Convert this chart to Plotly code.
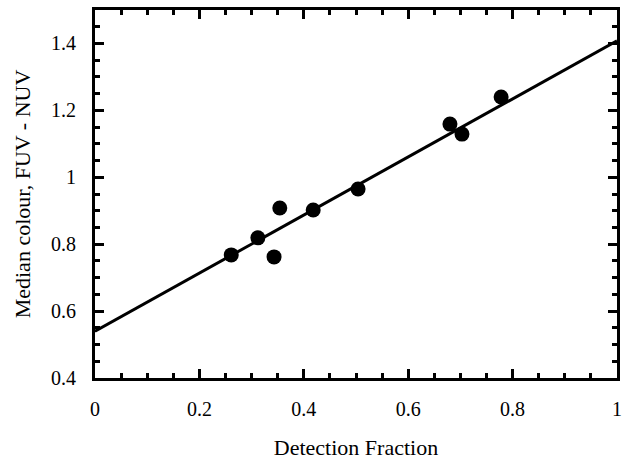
import plotly.graph_objects as go

det_frac = [0.261, 0.312, 0.343, 0.354, 0.418, 0.504, 0.680, 0.703, 0.778]
med_colour = [0.768, 0.819, 0.762, 0.908, 0.902, 0.965, 1.159, 1.129, 1.240]
fit_x = [0.0, 1.0]
fit_y = [0.540, 1.408]

fam = "Liberation Serif, Times New Roman, serif"
tick_font = dict(family=fam, size=20, color="black")
title_font = dict(family=fam, size=22, color="black")

fig = go.Figure()
fig.add_trace(go.Scatter(x=fit_x, y=fit_y, mode="lines",
                         line=dict(color="black", width=3), showlegend=False))
fig.add_trace(go.Scatter(x=det_frac, y=med_colour, mode="markers",
                         marker=dict(color="black", size=15), showlegend=False))

axis_common = dict(
    showgrid=False, zeroline=False, showline=True, linecolor="black", linewidth=3,
    mirror="allticks", ticks="inside", ticklen=9, tickwidth=2.5, tickcolor="black",
    tickfont=tick_font, automargin=False,
)
fig.update_layout(
    width=628, height=460,
    margin=dict(l=95, r=11, t=10, b=82),
    plot_bgcolor="white", paper_bgcolor="white",
    font=tick_font,
    xaxis=dict(range=[0, 1], dtick=0.2, tick0=0,
               minor=dict(dtick=0.05, ticks="inside", ticklen=5, tickwidth=2.5, tickcolor="black"),
               ticklabelstandoff=11,
               title=dict(text="Detection Fraction", font=title_font, standoff=31),
               **axis_common),
    yaxis=dict(range=[0.4, 1.5], dtick=0.2, tick0=0.4,
               minor=dict(dtick=0.05, ticks="inside", ticklen=5, tickwidth=2.5, tickcolor="black"),
               ticklabelstandoff=12,
               title=dict(text="Median colour, FUV - NUV", font=title_font, standoff=15),
               **axis_common),
)
fig.write_html("out.html")
